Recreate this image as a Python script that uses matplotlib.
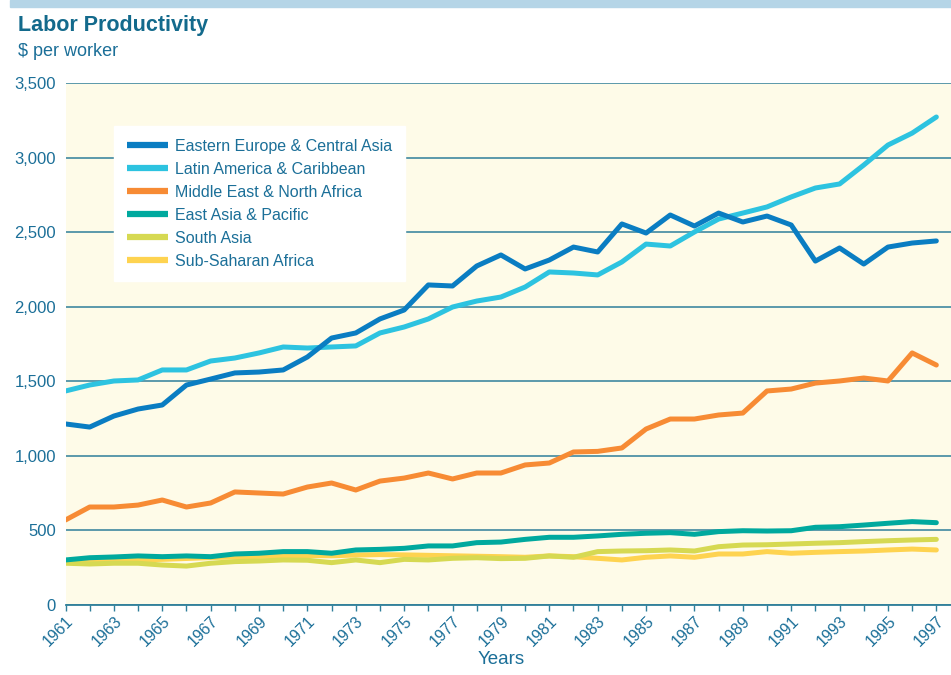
#!/usr/bin/env python3
"""Labor productivity by region, 1961-1997 ($ per worker)."""

import matplotlib

matplotlib.use("Agg")
import matplotlib.pyplot as plt
from matplotlib.patches import Rectangle
from matplotlib.ticker import FuncFormatter, MultipleLocator

# -----------------------------------------------------------------------------
# DATA
# -----------------------------------------------------------------------------

years = list(range(1961, 1998))

eastern_europe = [1214, 1193, 1267, 1314, 1341, 1475, 1515, 1556, 1562, 1576,
                  1663, 1790, 1824, 1918, 1978, 2146, 2139, 2273, 2347, 2253,
                  2313, 2400, 2367, 2555, 2494, 2615, 2541, 2628, 2568, 2608,
                  2548, 2306, 2394, 2286, 2400, 2427, 2441]

latin_america = [1435, 1475, 1502, 1509, 1576, 1576, 1636, 1656, 1690, 1730,
                 1723, 1730, 1737, 1824, 1864, 1918, 1998, 2038, 2065, 2132,
                 2233, 2226, 2213, 2300, 2420, 2407, 2501, 2588, 2628, 2669,
                 2736, 2796, 2823, 2950, 3084, 3164, 3272]

middle_east = [570, 657, 657, 670, 704, 657, 684, 758, 751, 744,
               791, 818, 771, 831, 851, 885, 845, 885, 885, 939,
               952, 1026, 1030, 1053, 1180, 1247, 1247, 1274, 1287, 1435,
               1448, 1488, 1502, 1522, 1502, 1690, 1609]

east_asia = [302, 317, 322, 329, 324, 329, 324, 342, 347, 358,
             358, 347, 369, 373, 380, 396, 396, 418, 422, 440,
             454, 454, 463, 474, 481, 485, 474, 492, 498, 496,
             498, 521, 525, 536, 548, 559, 552]

south_asia = [280, 275, 280, 280, 268, 261, 280, 291, 295, 302,
              300, 284, 302, 284, 306, 302, 313, 317, 311, 313,
              329, 320, 358, 362, 364, 369, 362, 391, 402, 404,
              409, 414, 418, 425, 431, 436, 440]

sub_saharan = [292, 295, 298, 302, 306, 312, 318, 322, 326, 330,
               332, 330, 335, 338, 336, 333, 330, 327, 324, 320,
               329, 324, 313, 302, 320, 329, 320, 342, 342, 358,
               347, 353, 358, 362, 369, 375, 369]

series_names = [
    "Eastern Europe & Central Asia",
    "Latin America & Caribbean",
    "Middle East & North Africa",
    "East Asia & Pacific",
    "South Asia",
    "Sub-Saharan Africa",
]
series_values = [eastern_europe, latin_america, middle_east,
                 east_asia, south_asia, sub_saharan]
series_colors = ["#0a7dc2", "#2dc3e0", "#f78b34", "#00a99e", "#d6d952", "#fed350"]

# -----------------------------------------------------------------------------
# STYLE
# -----------------------------------------------------------------------------

TEXT_COLOR = "#1b6f98"
TITLE_COLOR = "#136a8c"
GRID_COLOR = "#2f7f9a"
PLOT_BG = "#fefbe8"
BAND_COLOR = "#b5d5e7"

plt.rcParams["font.family"] = ["Liberation Sans", "DejaVu Sans"]

W, H = 951, 675
fig = plt.figure(figsize=(W / 100, H / 100), dpi=100)

left, right = 65.5 / W, 1.0
bottom, top = 1 - 605 / H, 1 - 83 / H
ax = fig.add_axes([left, bottom, right - left, top - bottom])
ax.set_facecolor(PLOT_BG)

# light blue band along the top of the figure
fig.patches.append(Rectangle((10 / W, 1 - 7 / H), 1, 7 / H,
                             transform=fig.transFigure, color=BAND_COLOR,
                             zorder=0))

# draw bottom series first so the legend order sits on top
for name, vals, col in reversed(list(zip(series_names, series_values, series_colors))):
    ax.plot(years, vals, color=col, linewidth=3.6, solid_capstyle="round",
            solid_joinstyle="round", label=name, zorder=3)

ax.set_xlim(1961, 1961 + (W - 65.5) / 24.19)
ax.set_ylim(0, 3500)

ax.yaxis.set_major_locator(MultipleLocator(500))
ax.yaxis.set_major_formatter(FuncFormatter(lambda v, _: f"{int(v):,}"))
ax.grid(axis="y", color=GRID_COLOR, linewidth=1.1, zorder=1)
ax.set_axisbelow(True)

ax.set_xticks(list(range(1961, 1998, 2)))
ax.set_xticks(years, minor=True)
ax.tick_params(axis="x", which="both", direction="out", length=4, width=1,
               color=GRID_COLOR, labelsize=11.5, labelcolor=TEXT_COLOR, pad=2)
ax.tick_params(axis="y", length=0, labelsize=12, labelcolor=TEXT_COLOR, pad=7)
for lbl in ax.get_xticklabels():
    lbl.set_rotation(45)
    lbl.set_ha("right")
    lbl.set_va("top")
    lbl.set_rotation_mode("anchor")

for side in ["top", "right", "left"]:
    ax.spines[side].set_visible(False)
ax.spines["bottom"].set_color(GRID_COLOR)
ax.spines["bottom"].set_linewidth(1.3)

# titles
fig.text(18 / W, 1 - 25 / H, "Labor Productivity", fontsize=15.5, fontweight="bold",
         color=TITLE_COLOR, va="center", ha="left")
fig.text(18 / W, 1 - 52 / H, "$ per worker", fontsize=13, color=TEXT_COLOR,
         va="center", ha="left")
fig.text(501 / W, 1 - 660 / H, "Years", fontsize=13.5, color=TEXT_COLOR,
         va="center", ha="center")

# legend in the original series order
handles, labels = ax.get_legend_handles_labels()
handles, labels = handles[::-1], labels[::-1]
leg = ax.legend(handles, labels, loc="upper left",
                bbox_to_anchor=(114 / W, 1 - 126 / H), bbox_transform=fig.transFigure,
                borderaxespad=0, frameon=True, fancybox=False, framealpha=1,
                facecolor="white", edgecolor="white", fontsize=11.5,
                handlelength=2.6, handletextpad=0.4, labelspacing=0.5,
                borderpad=0.8)
leg.set_zorder(5)
for txt in leg.get_texts():
    txt.set_color(TEXT_COLOR)
for line in leg.get_lines():
    line.set_linewidth(4.5)
    line.set_solid_capstyle("butt")

fig.savefig("out.png", dpi=100)
